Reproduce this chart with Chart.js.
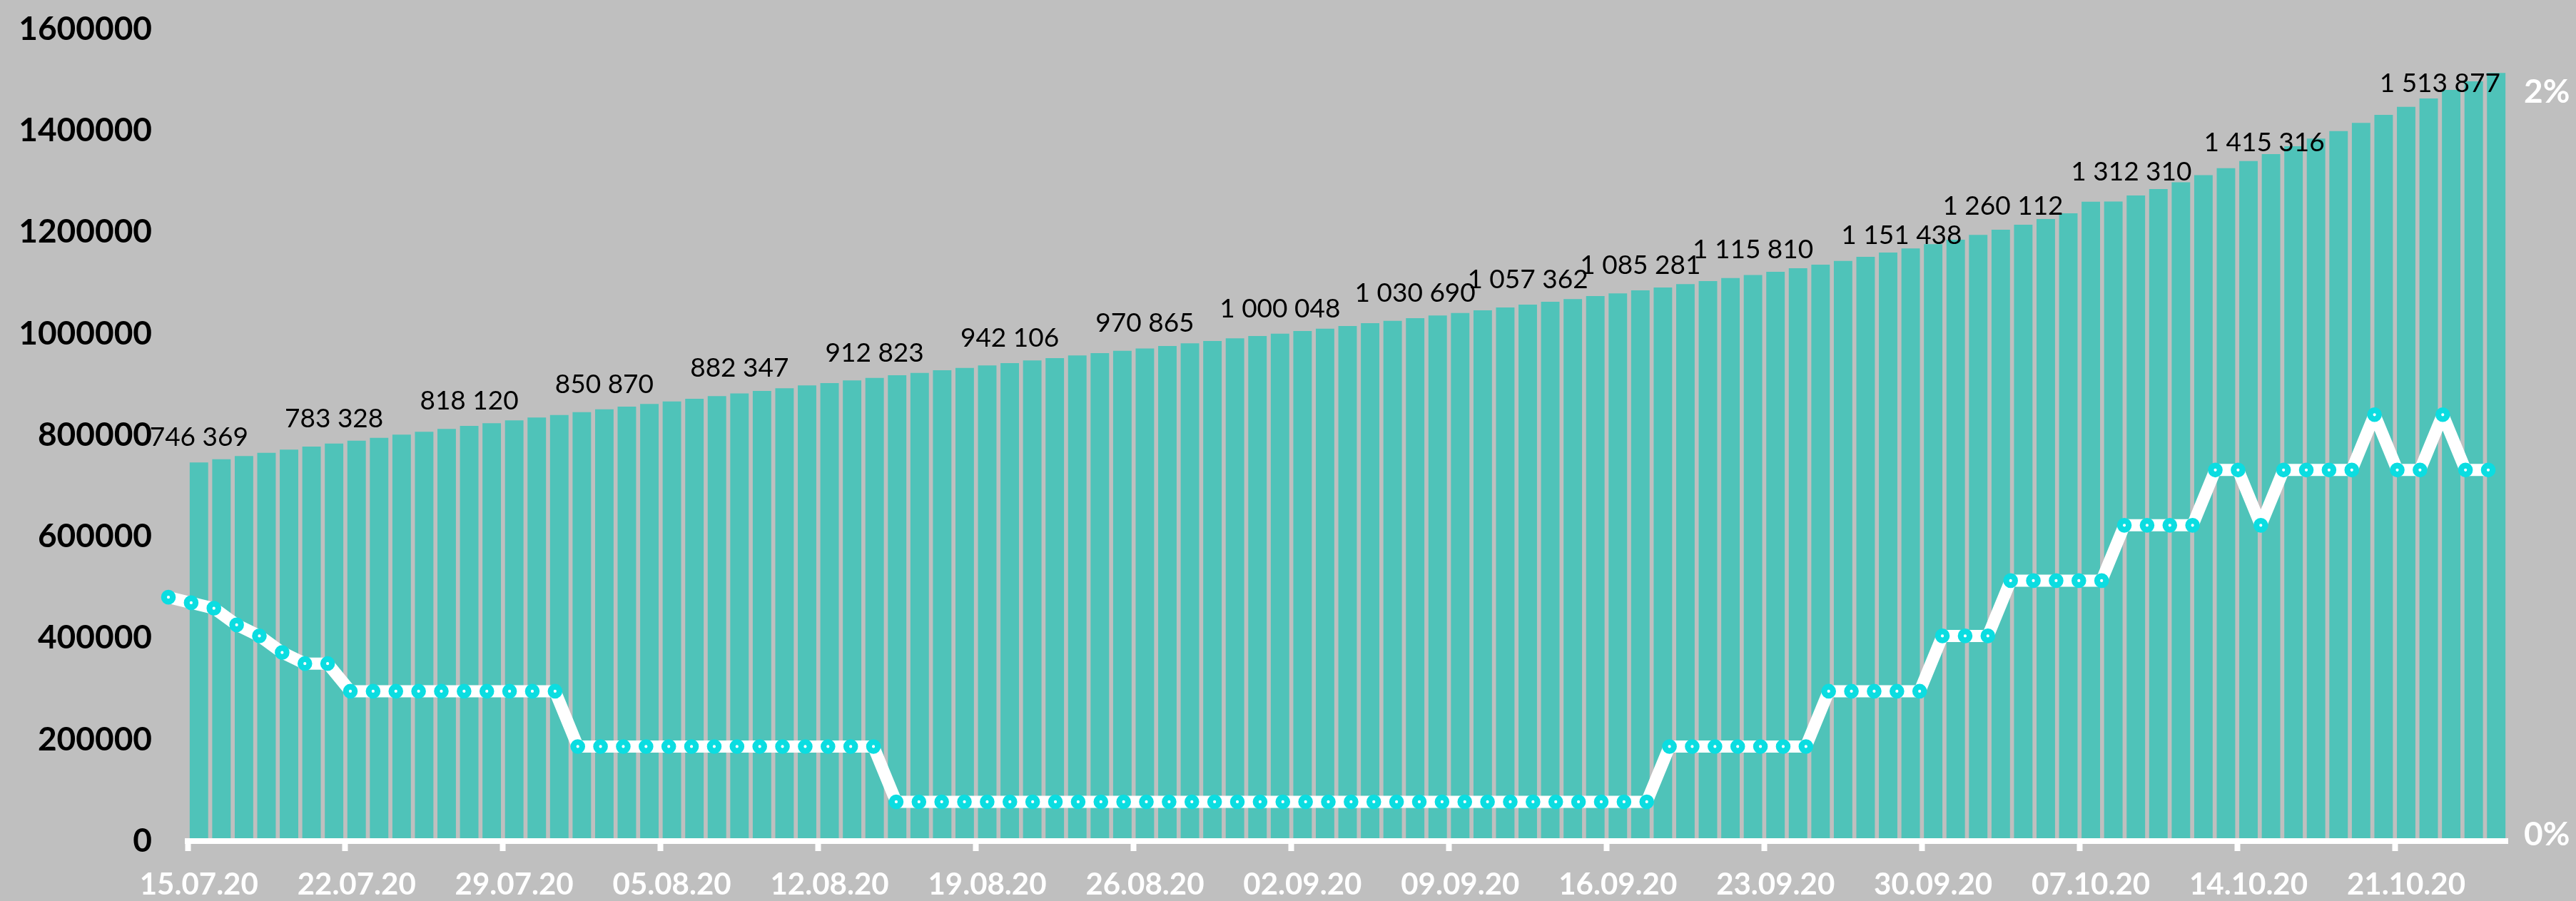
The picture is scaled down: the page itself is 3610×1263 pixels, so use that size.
<!DOCTYPE html>
<html lang="ru">
<head>
  <meta charset="UTF-8">
  <title>Total cases and daily growth, 15.07.20 - 25.10.20</title>
  <script src="https://cdn.jsdelivr.net/npm/chart.js"></script>
  <style>
    body {
      margin: 0;
      background: #bfbfbf;
    }

    #chartContainer {
      width: 3610px;
      height: 1263px;
    }
  </style>
</head>
<body>

  <div id="chartContainer">
    <canvas id="casesChart" width="3610" height="1263"></canvas>
  </div>

  <script>
    const dates = [
      '15.07.20', '16.07.20', '17.07.20', '18.07.20', '19.07.20', '20.07.20', '21.07.20', '22.07.20', '23.07.20', '24.07.20',
      '25.07.20', '26.07.20', '27.07.20', '28.07.20', '29.07.20', '30.07.20', '31.07.20', '01.08.20', '02.08.20', '03.08.20',
      '04.08.20', '05.08.20', '06.08.20', '07.08.20', '08.08.20', '09.08.20', '10.08.20', '11.08.20', '12.08.20', '13.08.20',
      '14.08.20', '15.08.20', '16.08.20', '17.08.20', '18.08.20', '19.08.20', '20.08.20', '21.08.20', '22.08.20', '23.08.20',
      '24.08.20', '25.08.20', '26.08.20', '27.08.20', '28.08.20', '29.08.20', '30.08.20', '31.08.20', '01.09.20', '02.09.20',
      '03.09.20', '04.09.20', '05.09.20', '06.09.20', '07.09.20', '08.09.20', '09.09.20', '10.09.20', '11.09.20', '12.09.20',
      '13.09.20', '14.09.20', '15.09.20', '16.09.20', '17.09.20', '18.09.20', '19.09.20', '20.09.20', '21.09.20', '22.09.20',
      '23.09.20', '24.09.20', '25.09.20', '26.09.20', '27.09.20', '28.09.20', '29.09.20', '30.09.20', '01.10.20', '02.10.20',
      '03.10.20', '04.10.20', '05.10.20', '06.10.20', '07.10.20', '08.10.20', '09.10.20', '10.10.20', '11.10.20', '12.10.20',
      '13.10.20', '14.10.20', '15.10.20', '16.10.20', '17.10.20', '18.10.20', '19.10.20', '20.10.20', '21.10.20', '22.10.20',
      '23.10.20', '24.10.20', '25.10.20'
    ];

    // cumulative cases (bars, left axis)
    const totalCases = [
      746369, 752630, 758820, 765290, 771470, 777520, 783328, 789190, 794810, 800990,
      806620, 812240, 818120, 823490, 829120, 834740, 839800, 845430, 850870, 856250,
      861460, 866520, 871720, 876920, 882347, 887190, 892390, 898010, 902650, 907850,
      912823, 918120, 922760, 927960, 932600, 937380, 942106, 947220, 951860, 957060,
      961700, 966340, 970865, 975760, 980970, 985610, 990810, 995450, 1000048, 1005290,
      1009930, 1015130, 1020760, 1025400, 1030690, 1035800, 1040900, 1046060, 1051690, 1057362,
      1062940, 1068140, 1074180, 1079380, 1085281, 1091060, 1097660, 1103710, 1109760, 1115810,
      1121990, 1129020, 1136050, 1143500, 1151438, 1159950, 1167960, 1176400, 1185260, 1194680,
      1204940, 1214800, 1226000, 1237300, 1260112, 1260300, 1272400, 1285100, 1298400, 1312310,
      1326300, 1340300, 1354000, 1369400, 1384500, 1399400, 1415316, 1431300, 1447200, 1463600,
      1480500, 1497400, 1513877
    ];

    // daily growth in % (line, right axis)
    const dailyGrowth = [
      0.87, 0.86, 0.85, 0.82, 0.80, 0.77, 0.75, 0.75, 0.70, 0.70,
      0.70, 0.70, 0.70, 0.70, 0.70, 0.70, 0.70, 0.70, 0.60, 0.60,
      0.60, 0.60, 0.60, 0.60, 0.60, 0.60, 0.60, 0.60, 0.60, 0.60,
      0.60, 0.60, 0.50, 0.50, 0.50, 0.50, 0.50, 0.50, 0.50, 0.50,
      0.50, 0.50, 0.50, 0.50, 0.50, 0.50, 0.50, 0.50, 0.50, 0.50,
      0.50, 0.50, 0.50, 0.50, 0.50, 0.50, 0.50, 0.50, 0.50, 0.50,
      0.50, 0.50, 0.50, 0.50, 0.50, 0.50, 0.60, 0.60, 0.60, 0.60,
      0.60, 0.60, 0.60, 0.70, 0.70, 0.70, 0.70, 0.70, 0.80, 0.80,
      0.80, 0.90, 0.90, 0.90, 0.90, 0.90, 1.00, 1.00, 1.00, 1.00,
      1.10, 1.10, 1.00, 1.10, 1.10, 1.10, 1.10, 1.20, 1.10, 1.10,
      1.20, 1.10, 1.10
    ];

    const caseTicks = [0, 200000, 400000, 600000, 800000, 1000000, 1200000, 1400000, 1600000];
    const growthTicks = [0.44, 1.783];

    // bars that carry a value label
    const labeledDays = [0, 6, 12, 18, 24, 30, 36, 42, 48, 54, 59, 64, 69, 74, 84, 89, 96, 102];
    // hand-placed labels: shift in days, lift in px above the bar top
    const labelShift = [0, 0, 0, 0, 0, 0, 0, 0, 0, 0, 0, 0, 0, 1.6, -3.9, -3.2, -4.3, -2.5];
    const labelLift = [36, 36, 36, 36, 36, 36, 36, 36, 36, 36, 36, 36, 36, 31, -5, 6, -27, -14];

    function spaced(n) {
      return String(n).replace(/\B(?=(\d{3})+(?!\d))/g, ' ');
    }

    const valueLabels = {
      id: 'valueLabels',
      afterDatasetsDraw(chart) {
        const { ctx, scales: { x, y } } = chart;
        ctx.save();
        ctx.font = '37px Lato';
        ctx.fillStyle = '#000';
        ctx.textAlign = 'center';
        ctx.textBaseline = 'alphabetic';
        labeledDays.forEach((day, k) => {
          const v = totalCases[day];
          const px = x.getPixelForValue(day + labelShift[k]);
          const py = y.getPixelForValue(v) - labelLift[k] + 13;
          ctx.fillText(spaced(v), px, py);
        });
        ctx.restore();
      }
    };

    // the first growth marker sits left of the plot area; Chart.js skips it, so draw it here
    const outsideMarkers = {
      id: 'outsideMarkers',
      afterDatasetsDraw(chart) {
        const meta = chart.getDatasetMeta(0);
        const area = chart.chartArea;
        const whole = { left: 0, top: 0, right: chart.width, bottom: chart.height };
        meta.data.forEach(pt => {
          if (pt.x < area.left - 15) pt.draw(chart.ctx, whole);
        });
      }
    };

    const noOverhang = (scale) => {
      scale.paddingTop = 0;
      scale.paddingBottom = 0;
    };

    const ctx = document.getElementById('casesChart').getContext('2d');

    new Chart(ctx, {
      type: 'bar',
      data: {
        labels: dates,
        datasets: [
          {
            type: 'line',
            label: 'Прирост, %',
            data: dailyGrowth.map((v, i) => ({ x: i, y: v })),
            xAxisID: 'xl',
            yAxisID: 'y2',
            order: 0,
            clip: false,
            borderColor: '#ffffff',
            borderWidth: 17,
            borderJoinStyle: 'round',
            tension: 0,
            pointRadius: 6.2,
            pointBorderWidth: 8.2,
            pointBackgroundColor: '#ffffff',
            pointBorderColor: '#0bdde1'
          },
          {
            type: 'bar',
            label: 'Всего случаев',
            data: totalCases,
            xAxisID: 'x',
            yAxisID: 'y',
            order: 1,
            grouped: false,
            backgroundColor: '#4fc3b9',
            barPercentage: 0.82,
            categoryPercentage: 1
          }
        ]
      },
      options: {
        responsive: false,
        devicePixelRatio: 1,
        animation: false,
        layout: {
          padding: { top: 41 }
        },
        plugins: {
          legend: { display: false },
          tooltip: { enabled: false }
        },
        scales: {
          x: {
            type: 'category',
            offset: true,
            grid: {
              display: true,
              drawOnChartArea: false,
              drawTicks: true,
              offset: true,
              tickLength: 14,
              tickWidth: 8,
              tickColor: (c) => (c.index % 7 === 0 ? '#ffffff' : 'rgba(0,0,0,0)'),
              z: 1
            },
            border: { display: true, color: '#ffffff', width: 8, z: 1 },
            ticks: {
              autoSkip: false,
              maxRotation: 0,
              minRotation: 0,
              padding: 22,
              color: '#ffffff',
              font: { family: 'Lato', size: 42, weight: 'bold' },
              callback(value, index) {
                return index % 7 === 0 ? this.getLabelForValue(value) : '';
              }
            },
            afterFit(scale) { scale.height = 84; }
          },
          xl: {
            type: 'linear',
            display: false,
            offset: false,
            bounds: 'data',
            grid: { offset: false },
            min: 0.847,
            max: 102.847
          },
          y: {
            position: 'left',
            min: 0,
            max: 1600000,
            grid: { display: false, drawTicks: false },
            border: { display: false },
            afterBuildTicks(scale) { scale.ticks = caseTicks.map(v => ({ value: v })); },
            ticks: {
              padding: 50,
              color: '#000000',
              font: { family: 'Lato', size: 46, weight: 'bold' },
              callback: (v) => String(v)
            },
            afterFit(scale) { scale.width = 263; noOverhang(scale); }
          },
          y2: {
            position: 'right',
            min: 0.429,
            max: 1.897,
            grid: { display: false, drawTicks: false },
            border: { display: false },
            afterBuildTicks(scale) { scale.ticks = growthTicks.map(v => ({ value: v })); },
            ticks: {
              padding: 23,
              color: '#ffffff',
              font: { family: 'Lato', size: 46, weight: 'bold' },
              callback: (v) => Math.round(v) + '%'
            },
            afterFit(scale) { scale.width = 96; noOverhang(scale); }
          }
        }
      },
      plugins: [valueLabels, outsideMarkers]
    });
  </script>

</body>
</html>
